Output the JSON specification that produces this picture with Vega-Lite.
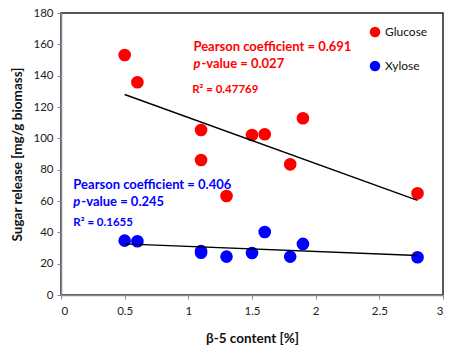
{
  "$schema": "https://vega.github.io/schema/vega-lite/v6.json",
  "autosize": {"type": "none"},
  "padding": {"left": 61, "top": 13, "right": 9, "bottom": 51},
  "width": 382,
  "height": 282,
  "background": "white",
  "config": {
    "font": "Lato",
    "view": {"stroke": "#222222", "strokeWidth": 1.5},
    "axis": {"grid": false, "domainColor": "#888888", "domainWidth": 1.5, "tickColor": "#888888", "tickSize": 4, "labelFont": "Lato", "labelFontSize": 11.5, "labelColor": "#222222", "titleFont": "Lato", "titleFontSize": 13.5, "titleFontWeight": "bold", "titleColor": "#111111"}
  },
  "datasets": {
    "points": [
      {"x": 0.5, "y": 153.2, "series": "Glucose"},
      {"x": 0.6, "y": 135.8, "series": "Glucose"},
      {"x": 1.1, "y": 105.3, "series": "Glucose"},
      {"x": 1.1, "y": 86.2, "series": "Glucose"},
      {"x": 1.3, "y": 63.2, "series": "Glucose"},
      {"x": 1.5, "y": 102.1, "series": "Glucose"},
      {"x": 1.6, "y": 102.6, "series": "Glucose"},
      {"x": 1.8, "y": 83.4, "series": "Glucose"},
      {"x": 1.9, "y": 112.8, "series": "Glucose"},
      {"x": 2.8, "y": 64.9, "series": "Glucose"},
      {"x": 0.5, "y": 34.7, "series": "Xylose"},
      {"x": 0.6, "y": 34.3, "series": "Xylose"},
      {"x": 1.1, "y": 27.0, "series": "Xylose"},
      {"x": 1.1, "y": 28.0, "series": "Xylose"},
      {"x": 1.3, "y": 24.5, "series": "Xylose"},
      {"x": 1.5, "y": 26.8, "series": "Xylose"},
      {"x": 1.6, "y": 40.2, "series": "Xylose"},
      {"x": 1.8, "y": 24.5, "series": "Xylose"},
      {"x": 1.9, "y": 32.6, "series": "Xylose"},
      {"x": 2.8, "y": 24.1, "series": "Xylose"}
    ],
    "notes": [
      {"x": 1.04, "y": 158.3, "series": "Glucose", "kind": "main", "text": "Pearson coefficient = 0.691"},
      {"x": 1.04, "y": 147.3, "series": "Glucose", "kind": "p", "text": "p"},
      {"x": 1.04, "y": 147.3, "series": "Glucose", "kind": "pv", "text": "-value = 0.027"},
      {"x": 1.03, "y": 130.9, "series": "Glucose", "kind": "r2", "text": "R² = 0.47769"},
      {"x": 0.097, "y": 70.2, "series": "Xylose", "kind": "main", "text": "Pearson coefficient = 0.406"},
      {"x": 0.097, "y": 59.6, "series": "Xylose", "kind": "p", "text": "p"},
      {"x": 0.097, "y": 59.6, "series": "Xylose", "kind": "pv", "text": "-value = 0.245"},
      {"x": 0.097, "y": 45.8, "series": "Xylose", "kind": "r2", "text": "R² = 0.1655"}
    ]
  },
  "encoding": {
    "x": {"field": "x", "type": "quantitative", "scale": {"domain": [0, 3]}, "axis": {"values": [0, 0.5, 1, 1.5, 2, 2.5, 3], "format": ".1~f", "title": "β-5 content [%]", "labelPadding": 6, "titlePadding": 15}},
    "y": {"field": "y", "type": "quantitative", "scale": {"domain": [0, 180]}, "axis": {"values": [0, 20, 40, 60, 80, 100, 120, 140, 160, 180], "title": "Sugar release [mg/g biomass]", "labelPadding": 4, "titlePadding": 8}}
  },
  "layer": [
    {
      "data": {"name": "points"},
      "mark": {"type": "circle", "size": 160, "opacity": 1},
      "encoding": {
        "color": {"field": "series", "type": "nominal", "scale": {"domain": ["Glucose", "Xylose"], "range": ["#ff0000", "#0000ff"]},
          "legend": {"title": null, "orient": "none", "legendX": 308, "legendY": 13, "symbolType": "circle", "symbolSize": 110, "labelFontSize": 12, "labelFont": "Lato", "labelColor": "#111111", "rowPadding": 22, "symbolOffset": 0, "labelOffset": 4}}
      }
    },
    {
      "data": {"name": "points"},
      "transform": [{"regression": "y", "on": "x", "groupby": ["series"]}],
      "mark": {"type": "line", "color": "black", "strokeWidth": 1.4},
      "encoding": {"detail": {"field": "series", "type": "nominal"}}
    },
    {
      "data": {"name": "notes"},
      "transform": [{"filter": "datum.kind == 'main'"}],
      "mark": {"type": "text", "align": "left", "baseline": "middle", "fontSize": 13, "fontWeight": "bold", "font": "Lato"},
      "encoding": {"text": {"field": "text"}, "color": {"field": "series", "type": "nominal", "legend": null}}
    },
    {
      "data": {"name": "notes"},
      "transform": [{"filter": "datum.kind == 'p'"}],
      "mark": {"type": "text", "align": "left", "baseline": "middle", "fontSize": 13, "fontWeight": "bold", "fontStyle": "italic", "font": "Lato"},
      "encoding": {"text": {"field": "text"}, "color": {"field": "series", "type": "nominal", "legend": null}}
    },
    {
      "data": {"name": "notes"},
      "transform": [{"filter": "datum.kind == 'pv'"}],
      "mark": {"type": "text", "align": "left", "baseline": "middle", "fontSize": 13, "fontWeight": "bold", "font": "Lato", "dx": 8},
      "encoding": {"text": {"field": "text"}, "color": {"field": "series", "type": "nominal", "legend": null}}
    },
    {
      "data": {"name": "notes"},
      "transform": [{"filter": "datum.kind == 'r2'"}],
      "mark": {"type": "text", "align": "left", "baseline": "middle", "fontSize": 11.5, "fontWeight": "bold", "font": "Lato"},
      "encoding": {"text": {"field": "text"}, "color": {"field": "series", "type": "nominal", "legend": null}}
    }
  ]
}
